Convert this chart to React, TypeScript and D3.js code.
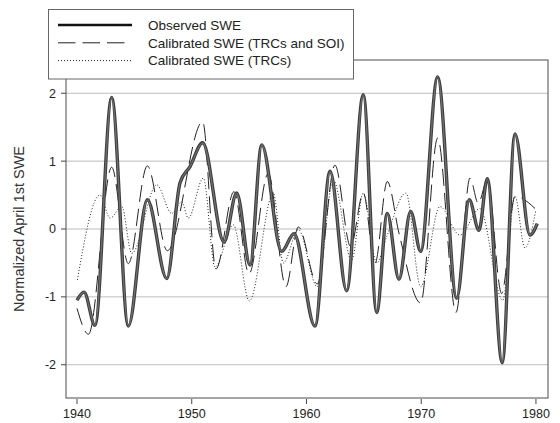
import React from "react";
import * as d3 from "d3";

// Observed SWE (control points)
const obsYears = [1940.0, 1940.61, 1941.57, 1943.02, 1944.47, 1946.13, 1947.82, 1948.98, 1949.85, 1950.95, 1952.81, 1953.92, 1955.08, 1956.1, 1957.84, 1958.91, 1960.74, 1962.05, 1963.5, 1964.95, 1966.12, 1967.04, 1968.06, 1969.08, 1969.95, 1971.43, 1973.09, 1974.19, 1975.03, 1975.76, 1977.06, 1978.17, 1979.48, 1980.11];
const obsValues = [-1.05, -0.93, -1.42, 1.94, -1.43, 0.43, -0.73, 0.68, 0.92, 1.27, -0.19, 0.53, -0.53, 1.24, -0.33, -0.07, -1.43, 0.85, -0.91, 1.98, -1.23, 0.23, -0.74, 0.26, -0.33, 2.24, -1.02, 0.43, -0.02, 0.74, -1.97, 1.4, -0.09, 0.08];

// Calibrated SWE (TRCs and SOI)
const soiYears = [1940.0, 1941.0, 1943.02, 1944.47, 1946.13, 1947.87, 1950.95, 1952.11, 1953.68, 1954.99, 1956.67, 1958.21, 1959.29, 1960.94, 1962.48, 1963.85, 1964.95, 1965.97, 1967.04, 1968.06, 1969.95, 1971.43, 1973.03, 1974.25, 1974.97, 1975.76, 1977.01, 1978.17, 1980.06];
const soiValues = [-1.17, -1.55, 0.91, -0.51, 0.93, -0.32, 1.58, -0.59, 0.55, -0.66, 0.82, -0.85, 0.03, -0.81, 0.94, -0.26, 0.53, -0.51, 0.7, -0.06, -1.09, 1.34, -1.23, 0.75, 0.38, 0.72, -0.95, 0.48, 0.28];

// Calibrated SWE (TRCs)
const trcYears = [1940.03, 1942.0, 1942.88, 1943.9, 1944.77, 1946.95, 1948.25, 1949.12, 1949.7, 1951.01, 1952.03, 1953.62, 1955.02, 1957.11, 1957.98, 1959.29, 1960.94, 1962.34, 1963.94, 1964.95, 1966.12, 1966.99, 1968.67, 1969.95, 1971.63, 1973.37, 1975.1, 1977.1, 1978.17, 1979.04, 1979.99];
const trcValues = [-0.75, 0.5, 0.16, 0.33, -0.36, 0.65, 0.23, 0.4, 0.16, 0.75, -0.56, 0.06, -1.06, 0.53, -0.5, -0.01, -0.85, 0.72, -0.46, 0.53, -0.5, -0.11, 0.53, -0.85, 0.33, -0.09, 0.3, -1.05, 0.48, -0.28, 0.28];

const xTicks = [1940, 1950, 1960, 1970, 1980];
const yTicks = [-2, -1, 0, 1, 2];
const legendLabels = ["Observed SWE", "Calibrated SWE (TRCs and SOI)", "Calibrated SWE (TRCs)"];

const W = 560;
const H = 423;
const left = 66, right = 548, top = 60, bottom = 398;

export default function App() {
  const x = d3.scaleLinear().domain([1939.04, 1981.05]).range([left, right]);
  const y = d3.scaleLinear().domain([-2.49, 2.49]).range([bottom, top]);
  const mk = (xs: number[], vs: number[]) =>
    d3
      .line<number>()
      .x((_, i) => x(xs[i]))
      .y((v) => y(v))
      .curve(d3.curveMonotoneX)(vs) || "";

  const font = "'Liberation Sans', Arial, Helvetica, sans-serif";
  const obsPath = mk(obsYears, obsValues);

  return (
    <svg width={W} height={H} style={{ position: "absolute", left: 0, top: 0 }} fontFamily={font}>
      <rect x={0} y={0} width={W} height={H} fill="#fff" />
      {yTicks.map((t) => (
        <line key={"g" + t} x1={left} x2={right} y1={y(t)} y2={y(t)} stroke="#bdbdbd" strokeWidth={1} />
      ))}
      <path d={mk(trcYears, trcValues)} fill="none" stroke="#222" strokeWidth={1} strokeDasharray="1,2" />
      <path d={mk(soiYears, soiValues)} fill="none" stroke="#222" strokeWidth={1} strokeDasharray="17,7" />
      <path d={obsPath} fill="none" stroke="#3c3c3c" strokeWidth={3.4} strokeLinejoin="round" />
      <path d={obsPath} fill="none" stroke="#6e6e6e" strokeWidth={1.3} strokeLinejoin="round" />
      <rect x={left} y={top} width={right - left} height={bottom - top} fill="none" stroke="#6a6a6a" strokeWidth={1.2} />
      {yTicks.map((t) => (
        <g key={"y" + t}>
          <line x1={left - 5} x2={left} y1={y(t)} y2={y(t)} stroke="#444" />
          <text x={56} y={y(t)} dy="0.35em" textAnchor="end" fontSize={12.5} fill="#222">
            {t}
          </text>
        </g>
      ))}
      {xTicks.map((t) => (
        <g key={"x" + t}>
          <line x1={x(t)} x2={x(t)} y1={bottom + 1} y2={bottom + 6} stroke="#444" />
          <text x={x(t)} y={418} textAnchor="middle" fontSize={12.5} fill="#222">
            {t}
          </text>
        </g>
      ))}
      <text transform={`translate(24,${(top + bottom) / 2}) rotate(-90)`} textAnchor="middle" fontSize={14.5} fill="#333">
        Normalized April 1st SWE
      </text>
      <rect x={48.5} y={9.5} width={305} height={69.5} fill="#fff" stroke="#666" strokeWidth={1} />
      <line x1={58} x2={132} y1={25} y2={25} stroke="#111" strokeWidth={2.5} />
      <line x1={58} x2={125} y1={42.8} y2={42.8} stroke="#222" strokeWidth={1} strokeDasharray="17.5,7" />
      <line x1={58} x2={132} y1={60.6} y2={60.6} stroke="#222" strokeWidth={1} strokeDasharray="1,2" />
      {legendLabels.map((lab, i) => (
        <text key={lab} x={148} y={25 + i * 17.8} dy="0.35em" fontSize={13.5} fill="#222">
          {lab}
        </text>
      ))}
    </svg>
  );
}
